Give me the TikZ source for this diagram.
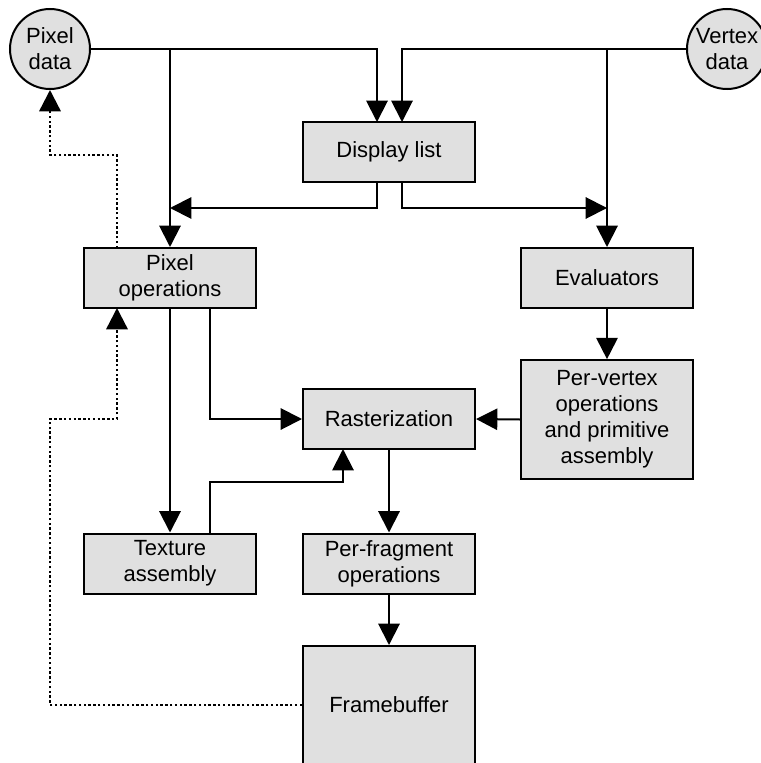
\documentclass[tikz,border=0pt]{standalone}
\usepackage{fontspec}
\setmainfont{Liberation Sans}
\usetikzlibrary{arrows.meta}
\definecolor{boxgray}{RGB}{224,224,224}
\tikzset{every path/.style={line width=1.5pt},
  every node/.style={font=\fontsize{16.5}{19.5}\selectfont, align=center},
  box/.style={draw, fill=boxgray, minimum width=129pt, minimum height=45pt, inner sep=2pt},
  datacircle/.style={draw, circle, fill=boxgray, minimum size=60pt, inner sep=0pt},
  flow/.style={-{Triangle[length=16pt,width=16pt]}},
  readback/.style={flow, line width=1.8pt, dash pattern=on 1.8pt off 1.8pt}}

\begin{document}
\begin{tikzpicture}[x=0.75pt,y=-0.75pt]
  \useasboundingbox (0,0) rectangle (760,763);

  \node[datacircle] (pixdata) at ( 50.0, 49.0) {Pixel\\data};
  \node[datacircle] (vtxdata) at (727.0, 49.0) {Vertex\\data};
  \node[box] (dlist)   at (389.0,152.0) {Display list};
  \node[box] (pixops)  at (170.0,278.0) {Pixel\\operations};
  \node[box] (eval)    at (607.0,278.0) {Evaluators};
  \node[box, minimum height=89pt] (pervtx) at (607.0,419.5) {Per-vertex\\operations\\and primitive\\assembly};
  \node[box] (raster)  at (389.0,419.0) {Rasterization};
  \node[box] (texasm)  at (170.0,563.5) {Texture\\assembly};
  \node[box] (perfrag) at (389.0,563.5) {Per-fragment\\operations};
  \node[box, minimum height=88.5pt] (fbuf) at (389.0,705.0) {Framebuffer};

  \coordinate (dlinA)  at (377,122);
  \coordinate (dlinB)  at (402,122);
  \coordinate (dloutA) at (377,182);
  \coordinate (dloutB) at (402,182);
  \coordinate (poout)  at (210,308);
  \coordinate (podot)  at (117,308);
  \coordinate (poup)   at (117,248);
  \coordinate (taout)  at (210,533);
  \coordinate (rain)   at (343,449);

  % data into the display list and straight on
  \draw[flow] (pixdata.east) -- (pixdata.east -| dlinA) -- (dlinA);
  \draw[flow] (pixdata.east -| pixops.north) -- (pixops.north);
  \draw[flow] (vtxdata.west) -- (vtxdata.west -| dlinB) -- (dlinB);
  \draw[flow] (vtxdata.west -| eval.north) -- (eval.north);

  % display list out
  \draw[flow] (dloutA) -- ++(0,26) coordinate (jA) -- (jA -| pixops.north);
  \draw[flow] (dloutB) -- ++(0,26) coordinate (jB) -- (jB -| eval.north);

  \draw[flow] (eval) -- (pervtx);
  \draw[flow] (pervtx.west) -- (raster.east);
  \draw[flow] (poout) |- (raster.west);
  \draw[flow] (pixops) -- (texasm);
  \draw[flow] (taout) -- ++(0,-51) -| (rain);
  \draw[flow] (raster) -- (perfrag);
  \draw[flow] (perfrag) -- (fbuf);

  % read back paths
  \draw[readback] (fbuf.west) -- (fbuf.west -| pixdata.south) |- (podot |- raster.west) -- (podot);
  \draw[readback] (poup) -- ++(0,-93) -| (pixdata.south);
\end{tikzpicture}
\end{document}
